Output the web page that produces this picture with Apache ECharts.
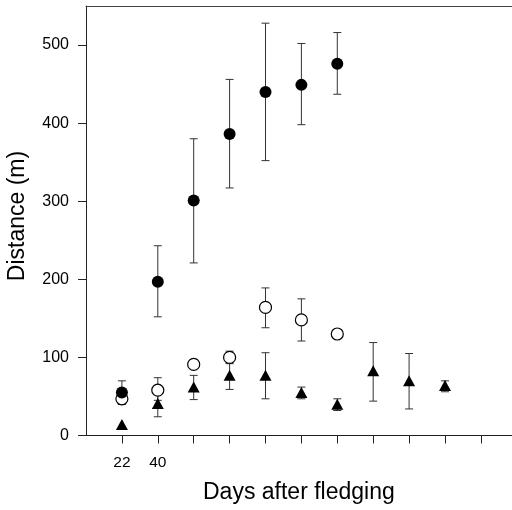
<!DOCTYPE html>
<html>
<head>
<meta charset="utf-8">
<script src="https://cdn.jsdelivr.net/npm/echarts@6/dist/echarts.min.js"></script>
<style>
html,body{margin:0;padding:0;background:#fff}
#myChart{width:512px;height:510px}
</style>
</head>
<body>
<div id="myChart"></div>
<script>
// 数据
var days = [22, 40, 58, 76, 94, 112, 130, 148, 166, 184];
var xTicks = [22, 40, 58, 76, 94, 112, 130, 148, 166, 184, 202];
var xLabels = [22, 40];
var yTicks = [0, 100, 200, 300, 400, 500];

// filled circles
var solidMean = [55, 197, 301, 386, 440, 449, 476];
var solidLow  = [40, 152, 221, 317, 352, 398, 437];
var solidHigh = [70, 243, 380, 456, 528, 502, 516];
// open circles
var openMean = [47, 58, 91, 100, 164, 148, 130];
var openLow  = [40, 45, 86, 92, 138, 121, 130];
var openHigh = [52, 74, 97, 108, 189, 175, 130];
// triangles
var triMean = [14, 41, 62, 77, 77, 55, 40, 83, 70, 64];
var triLow  = [14, 24, 46, 59, 47, 47, 32, 44, 34, 56];
var triHigh = [14, 55, 77, 93, 106, 62, 47, 119, 105, 70];

function points(mean){
    return mean.map(function(v, i){ return [days[i], v]; });
}
function bars(low, high){
    var out = [];
    for (var i = 0; i < low.length; i++) {
        if (low[i] !== high[i]) out.push([days[i], low[i], high[i]]);
    }
    return out;
}
// 误差线
function errorBar(params, api){
    var x = api.value(0);
    var lo = api.coord([x, api.value(1)]);
    var hi = api.coord([x, api.value(2)]);
    var w = 4;
    var st = {stroke: '#333', lineWidth: 1};
    return {
        type: 'group',
        children: [
            {type: 'line', shape: {x1: lo[0], y1: lo[1], x2: hi[0], y2: hi[1]}, style: st},
            {type: 'line', shape: {x1: lo[0] - w, y1: lo[1], x2: lo[0] + w, y2: lo[1]}, style: st},
            {type: 'line', shape: {x1: hi[0] - w, y1: hi[1], x2: hi[0] + w, y2: hi[1]}, style: st}
        ]
    };
}

var font = 'Liberation Sans, Arial, sans-serif';
var myChart = echarts.init(document.getElementById('myChart'));
var options = {
    animation: false,
    backgroundColor: '#fff',
    grid: {left: 86, right: 0, top: 6, bottom: 74.5},
    xAxis: [{
        type: 'value',
        min: 4,
        max: 217.6,
        splitLine: {show: false},
        axisLine: {lineStyle: {color: '#222', width: 1}},
        axisTick: {customValues: xTicks, length: 8, lineStyle: {color: '#222'}},
        axisLabel: {customValues: xLabels, margin: 19, color: '#000', fontSize: 15.5, fontFamily: font}
    }, {
        type: 'value',
        position: 'top',
        min: 4,
        max: 217.6,
        splitLine: {show: false},
        axisLine: {lineStyle: {color: '#444', width: 1}},
        axisTick: {show: false},
        axisLabel: {show: false}
    }],
    yAxis: {
        type: 'value',
        min: 0,
        max: 550,
        splitLine: {show: false},
        axisLine: {show: true, lineStyle: {color: '#222', width: 1}},
        axisTick: {customValues: yTicks, length: 8, lineStyle: {color: '#222'}},
        axisLabel: {customValues: yTicks, margin: 17, color: '#000', fontSize: 16, fontFamily: font}
    },
    graphic: [
        {type: 'text', left: 203, top: 481, style: {text: 'Days after fledging', font: '23px ' + font, fill: '#000'}},
        {type: 'text', x: 18, y: 216, rotation: Math.PI / 2, style: {text: 'Distance (m)', font: '23px ' + font, fill: '#000', align: 'center', verticalAlign: 'middle'}}
    ],
    series: [
        {type: 'custom', renderItem: errorBar, data: bars(triLow, triHigh), z: 1},
        {type: 'custom', renderItem: errorBar, data: bars(openLow, openHigh), z: 1},
        {type: 'custom', renderItem: errorBar, data: bars(solidLow, solidHigh), z: 1},
        {type: 'scatter', data: points(triMean), symbol: 'triangle', symbolSize: [12, 11],
            itemStyle: {color: '#000', opacity: 1}, z: 3},
        {type: 'scatter', data: points(openMean), symbol: 'circle', symbolSize: 12,
            itemStyle: {color: '#fff', borderColor: '#000', borderWidth: 1.2, opacity: 1}, z: 4},
        {type: 'scatter', data: points(solidMean), symbol: 'circle', symbolSize: 12,
            itemStyle: {color: '#000', opacity: 1}, z: 5}
    ]
};
myChart.setOption(options);
</script>
</body>
</html>
